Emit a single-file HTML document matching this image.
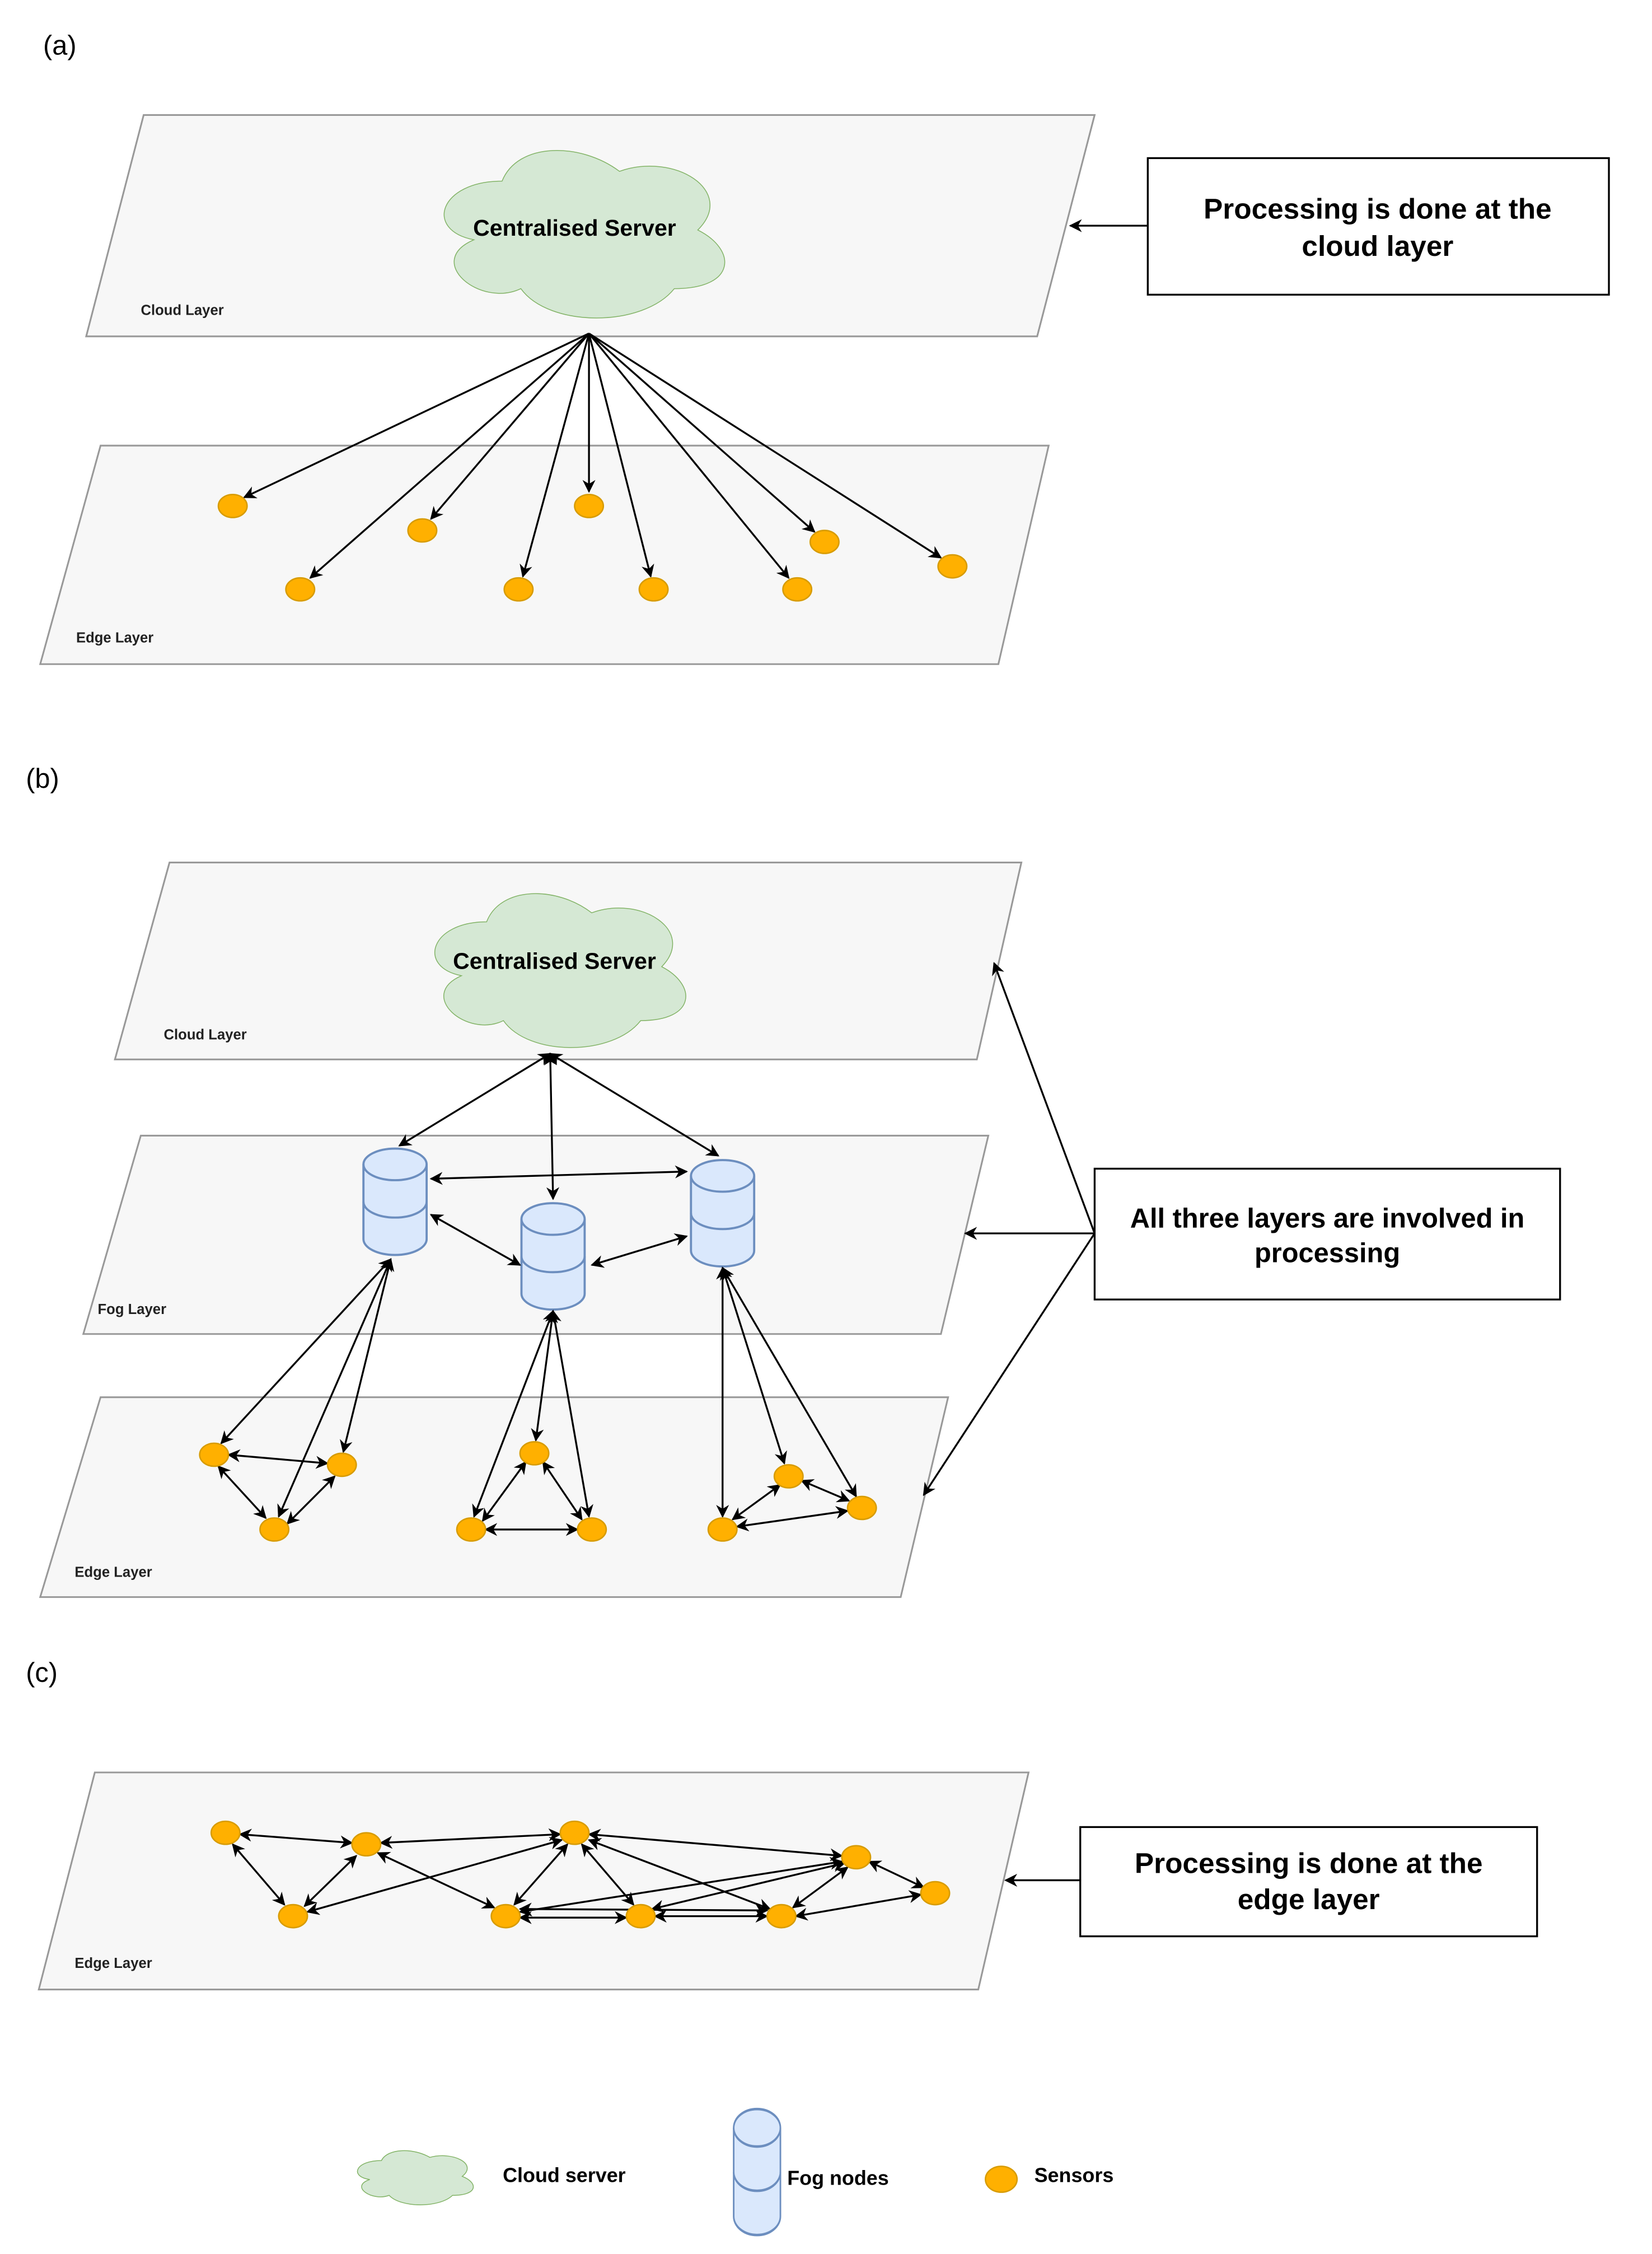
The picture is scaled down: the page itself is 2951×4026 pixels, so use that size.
<!DOCTYPE html>
<html><head><meta charset="utf-8"><style>
html,body{margin:0;padding:0;background:#fff;}
svg{display:block;}
text{font-family:"Liberation Sans",sans-serif;}
</style></head><body>
<svg width="2951" height="4026" viewBox="0 0 1150 1568" preserveAspectRatio="none" xmlns="http://www.w3.org/2000/svg">
<defs>
<marker id="ah" viewBox="0 0 10 10" refX="9" refY="5" markerWidth="9" markerHeight="9" markerUnits="userSpaceOnUse" orient="auto-start-reverse"><path d="M0,0 L10,5 L0,10 L3,5 z" fill="#000"/></marker>
<symbol id="cloud" viewBox="0 0 1 1" preserveAspectRatio="none"><path d="M0.25 0.25 C0.05 0.25 0 0.5 0.16 0.55 C0 0.66 0.18 0.9 0.31 0.8 C0.4 1 0.7 1 0.8 0.8 C1 0.8 1 0.6 0.875 0.5 C1 0.3 0.8 0.1 0.625 0.2 C0.5 0.05 0.3 0.05 0.25 0.25 Z" fill="#d5e8d4" stroke="#82b366" stroke-width="1.5" vector-effect="non-scaling-stroke"/></symbol>
<symbol id="cyl" viewBox="0 0 46 76" preserveAspectRatio="none"><path d="M1,12 A22,11 0 0 1 45,12 L45,64 A22,11 0 0 1 1,64 Z" fill="#dae8fc" stroke="#6c8ebf" stroke-width="1.5"/><path d="M1,12 A22,11 0 0 0 45,12" fill="none" stroke="#6c8ebf" stroke-width="1.5"/><path d="M1,38 A22,11 0 0 0 45,38" fill="none" stroke="#6c8ebf" stroke-width="1.5"/></symbol>
</defs>
<g font-size="19"><text x="30" y="38">(a)</text><text x="18" y="548">(b)</text><text x="18" y="1170">(c)</text></g>

<g fill="#f7f7f7" stroke="#999" stroke-width="1.2">
<polygon points="100,80 762,80 722,234 60,234"/>
<polygon points="70,310 730,310 695,462 28,462"/>
<polygon points="118,600 711,600 680,737 80,737"/>
<polygon points="98,790 688,790 655,928 58,928"/>
<polygon points="70,972 660,972 627,1111 28,1111"/>
<polygon points="66,1233 716,1233 681,1384 27,1384"/>
</g>
<g font-size="10" font-weight="bold" fill="#222">
<text x="98" y="219">Cloud Layer</text><text x="53" y="447">Edge Layer</text>
<text x="114" y="723">Cloud Layer</text><text x="68" y="914">Fog Layer</text><text x="52" y="1097">Edge Layer</text>
<text x="52" y="1369">Edge Layer</text>
</g>

<use href="#cloud" x="295" y="92" width="218" height="136"/>
<text x="400" y="164" font-size="16" font-weight="bold" text-anchor="middle">Centralised Server</text>
<use href="#cloud" x="290" y="610" width="195" height="125"/>
<text x="386" y="674" font-size="16" font-weight="bold" text-anchor="middle">Centralised Server</text>

<g stroke="#000" stroke-width="1.3" fill="none" marker-end="url(#ah)">
<line x1="410" y1="232" x2="170" y2="346"/><line x1="410" y1="232" x2="216" y2="402"/>
<line x1="410" y1="232" x2="300" y2="361"/><line x1="410" y1="232" x2="364" y2="401"/>
<line x1="410" y1="232" x2="410" y2="342"/><line x1="410" y1="232" x2="453" y2="401"/>
<line x1="410" y1="232" x2="549" y2="402"/><line x1="410" y1="232" x2="567" y2="370"/>
<line x1="410" y1="232" x2="655" y2="388"/>
<line x1="799" y1="157" x2="745" y2="157"/>
</g>
<g fill="#ffb000" stroke="#d79b00" stroke-width="1">
<ellipse cx="162" cy="352" rx="10" ry="8"/><ellipse cx="209" cy="410" rx="10" ry="8"/><ellipse cx="294" cy="369" rx="10" ry="8"/>
<ellipse cx="361" cy="410" rx="10" ry="8"/><ellipse cx="410" cy="352" rx="10" ry="8"/><ellipse cx="455" cy="410" rx="10" ry="8"/>
<ellipse cx="555" cy="410" rx="10" ry="8"/><ellipse cx="574" cy="377" rx="10" ry="8"/><ellipse cx="663" cy="394" rx="10" ry="8"/>
</g>
<rect x="799" y="110" width="321" height="95" fill="#fff" stroke="#000" stroke-width="1.3"/>
<text x="959" y="152" font-size="20" font-weight="bold" text-anchor="middle">Processing is done at the</text>
<text x="959" y="178" font-size="20" font-weight="bold" text-anchor="middle">cloud layer</text>

<!-- (b) -->
<use href="#cyl" x="252" y="798" width="46" height="76"/>
<use href="#cyl" x="362" y="836" width="46" height="76"/>
<use href="#cyl" x="480" y="806" width="46" height="76"/>
<g stroke="#000" stroke-width="1.3" fill="none" marker-end="url(#ah)" marker-start="url(#ah)">
<line x1="383" y1="733" x2="278" y2="797"/><line x1="383" y1="733" x2="385" y2="834"/><line x1="383" y1="733" x2="500" y2="804"/>
<line x1="300" y1="820" x2="478" y2="815"/><line x1="300" y1="845" x2="362" y2="880"/><line x1="412" y1="880" x2="478" y2="860"/>
<line x1="272" y1="876" x2="154" y2="1004"/><line x1="272" y1="876" x2="239" y2="1010"/><line x1="272" y1="876" x2="194" y2="1055"/>
<line x1="385" y1="912" x2="373" y2="1002"/><line x1="385" y1="912" x2="330" y2="1055"/><line x1="385" y1="912" x2="410" y2="1055"/>
<line x1="503" y1="882" x2="503" y2="1055"/><line x1="503" y1="882" x2="546" y2="1018"/><line x1="503" y1="882" x2="596" y2="1041"/>
<line x1="159" y1="1012" x2="228" y2="1018"/><line x1="152" y1="1020" x2="185" y2="1056"/><line x1="200" y1="1060" x2="233" y2="1027"/>
<line x1="336" y1="1058" x2="366" y2="1017"/><line x1="378" y1="1017" x2="405" y2="1057"/><line x1="338" y1="1064" x2="402" y2="1064"/>
<line x1="510" y1="1057" x2="543" y2="1033"/><line x1="558" y1="1030" x2="591" y2="1044"/><line x1="513" y1="1062" x2="590" y2="1051"/>
</g>
<g stroke="#000" stroke-width="1.3" fill="none" marker-end="url(#ah)">
<line x1="762" y1="858" x2="692" y2="670"/><line x1="762" y1="858" x2="672" y2="858"/><line x1="762" y1="858" x2="643" y2="1040"/>
</g>
<g fill="#ffb000" stroke="#d79b00" stroke-width="1">
<ellipse cx="149" cy="1012" rx="10" ry="8"/><ellipse cx="238" cy="1019" rx="10" ry="8"/><ellipse cx="191" cy="1064" rx="10" ry="8"/>
<ellipse cx="372" cy="1011" rx="10" ry="8"/><ellipse cx="328" cy="1064" rx="10" ry="8"/><ellipse cx="412" cy="1064" rx="10" ry="8"/>
<ellipse cx="549" cy="1027" rx="10" ry="8"/><ellipse cx="600" cy="1049" rx="10" ry="8"/><ellipse cx="503" cy="1064" rx="10" ry="8"/>
</g>
<rect x="762" y="813" width="324" height="91" fill="#fff" stroke="#000" stroke-width="1.3"/>
<text x="924" y="854" font-size="19" font-weight="bold" text-anchor="middle">All three layers are involved in</text>
<text x="924" y="878" font-size="19" font-weight="bold" text-anchor="middle">processing</text>

<!-- (c) -->
<g stroke="#000" stroke-width="1.3" fill="none" marker-end="url(#ah)" marker-start="url(#ah)">
<line x1="167" y1="1276" x2="245" y2="1282"/><line x1="162" y1="1283" x2="198" y2="1325"/>
<line x1="265" y1="1282" x2="390" y2="1276"/><line x1="212" y1="1326" x2="248" y2="1291"/>
<line x1="263" y1="1289" x2="344" y2="1327"/><line x1="214" y1="1330" x2="391" y2="1280"/>
<line x1="395" y1="1283" x2="358" y2="1325"/><line x1="405" y1="1283" x2="441" y2="1325"/>
<line x1="410" y1="1276" x2="586" y2="1291"/><line x1="362" y1="1330" x2="586" y2="1295"/>
<line x1="552" y1="1327" x2="590" y2="1299"/><line x1="605" y1="1295" x2="643" y2="1313"/>
<line x1="554" y1="1333" x2="641" y2="1318"/><line x1="362" y1="1334" x2="436" y2="1334"/>
<line x1="456" y1="1333" x2="534" y2="1333"/><line x1="362" y1="1328" x2="534" y2="1329"/>
<line x1="410" y1="1280" x2="536" y2="1328"/><line x1="454" y1="1328" x2="588" y2="1296"/>
</g>
<g stroke="#000" stroke-width="1.3" fill="none" marker-end="url(#ah)"><line x1="752" y1="1308" x2="700" y2="1308"/></g>
<g fill="#ffb000" stroke="#d79b00" stroke-width="1">
<ellipse cx="157" cy="1275" rx="10" ry="8"/><ellipse cx="255" cy="1283" rx="10" ry="8"/><ellipse cx="400" cy="1275" rx="10" ry="8"/>
<ellipse cx="596" cy="1292" rx="10" ry="8"/><ellipse cx="651" cy="1317" rx="10" ry="8"/><ellipse cx="204" cy="1333" rx="10" ry="8"/>
<ellipse cx="352" cy="1333" rx="10" ry="8"/><ellipse cx="446" cy="1333" rx="10" ry="8"/><ellipse cx="544" cy="1333" rx="10" ry="8"/>
</g>
<rect x="752" y="1271" width="318" height="76" fill="#fff" stroke="#000" stroke-width="1.3"/>
<text x="911" y="1303" font-size="20" font-weight="bold" text-anchor="middle">Processing is done at the</text>
<text x="911" y="1328" font-size="20" font-weight="bold" text-anchor="middle">edge layer</text>

<!-- legend -->
<use href="#cloud" x="243" y="1492" width="90" height="44"/>
<text x="350" y="1518" font-size="14" font-weight="bold">Cloud server</text>
<use href="#cyl" x="510" y="1466" width="34" height="90"/>
<text x="548" y="1520" font-size="14" font-weight="bold">Fog nodes</text>
<ellipse cx="697" cy="1516" rx="11" ry="9" fill="#ffb000" stroke="#d79b00"/>
<text x="720" y="1518" font-size="14" font-weight="bold">Sensors</text>
</svg>
</body></html>
